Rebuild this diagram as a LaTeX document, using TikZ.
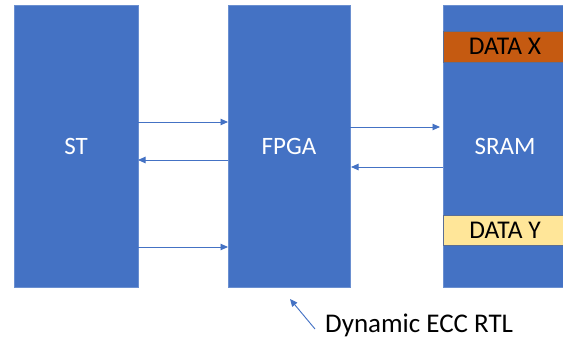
\documentclass[tikz,border=0pt]{standalone}
\usepackage{fontspec}
\setmainfont{Carlito}
\usetikzlibrary{arrows.meta}
\definecolor{blk}{HTML}{4472C4}
\definecolor{blkedge}{HTML}{6A8FD0}
\definecolor{datax}{HTML}{C55A11}
\definecolor{datay}{HTML}{FFE699}
\definecolor{bandedge}{HTML}{5A6E95}
\tikzset{
  block/.style={fill=blk, draw=blkedge, line width=0.6pt, inner sep=0pt, outer sep=0pt,
    text=white, font=\fontsize{25}{30}\selectfont},
  band/.style={draw=bandedge, line width=0.6pt, inner sep=0pt, outer sep=0pt,
    font=\fontsize{25.5}{30}\selectfont, text=black},
  link/.style={draw=blk, line width=0.9pt, -{Triangle[length=7.5pt,width=6.5pt]}},
}
\begin{document}
\begin{tikzpicture}[x=1pt,y=-1pt]
\useasboundingbox (0,0) rectangle (563,342);
% the three blocks
\node[block, minimum width=124pt, minimum height=282pt] (st) at (76,146) {ST};
\node[block, minimum width=122pt, minimum height=282pt] (fpga) at (289,146) {FPGA};
\node[block, minimum width=124pt, minimum height=282pt] (sram) at (505,146) {SRAM};
% data words stored in the SRAM
\node[band, fill=datax, minimum width=124pt, minimum height=31pt] (dx) at (505,46.5) {DATA X};
\node[band, fill=datay, minimum width=124pt, minimum height=30.5pt] (dy) at (505,230.3) {DATA Y};
% ST <-> FPGA
\draw[link] (st.east |- 0,122) -- (fpga.west |- 0,122);
\draw[link] (fpga.west |- 0,160) -- (st.east |- 0,160);
\draw[link] (st.east |- 0,247) -- (fpga.west |- 0,247);
% FPGA <-> SRAM
\draw[link] (fpga.east |- 0,127) -- ([xshift=-3pt]sram.west |- 0,127);
\draw[link] (sram.west |- 0,167) -- ([xshift=1pt]fpga.east |- 0,167);
% annotation
\node[anchor=west, font=\fontsize{27}{32}\selectfont, inner sep=0pt] (lbl) at (325,325) {Dynamic ECC RTL};
\coordinate (tail) at (315,329);
\coordinate (tip) at (290,299);
\draw[link] (tail) -- (tip);
\end{tikzpicture}
\end{document}
